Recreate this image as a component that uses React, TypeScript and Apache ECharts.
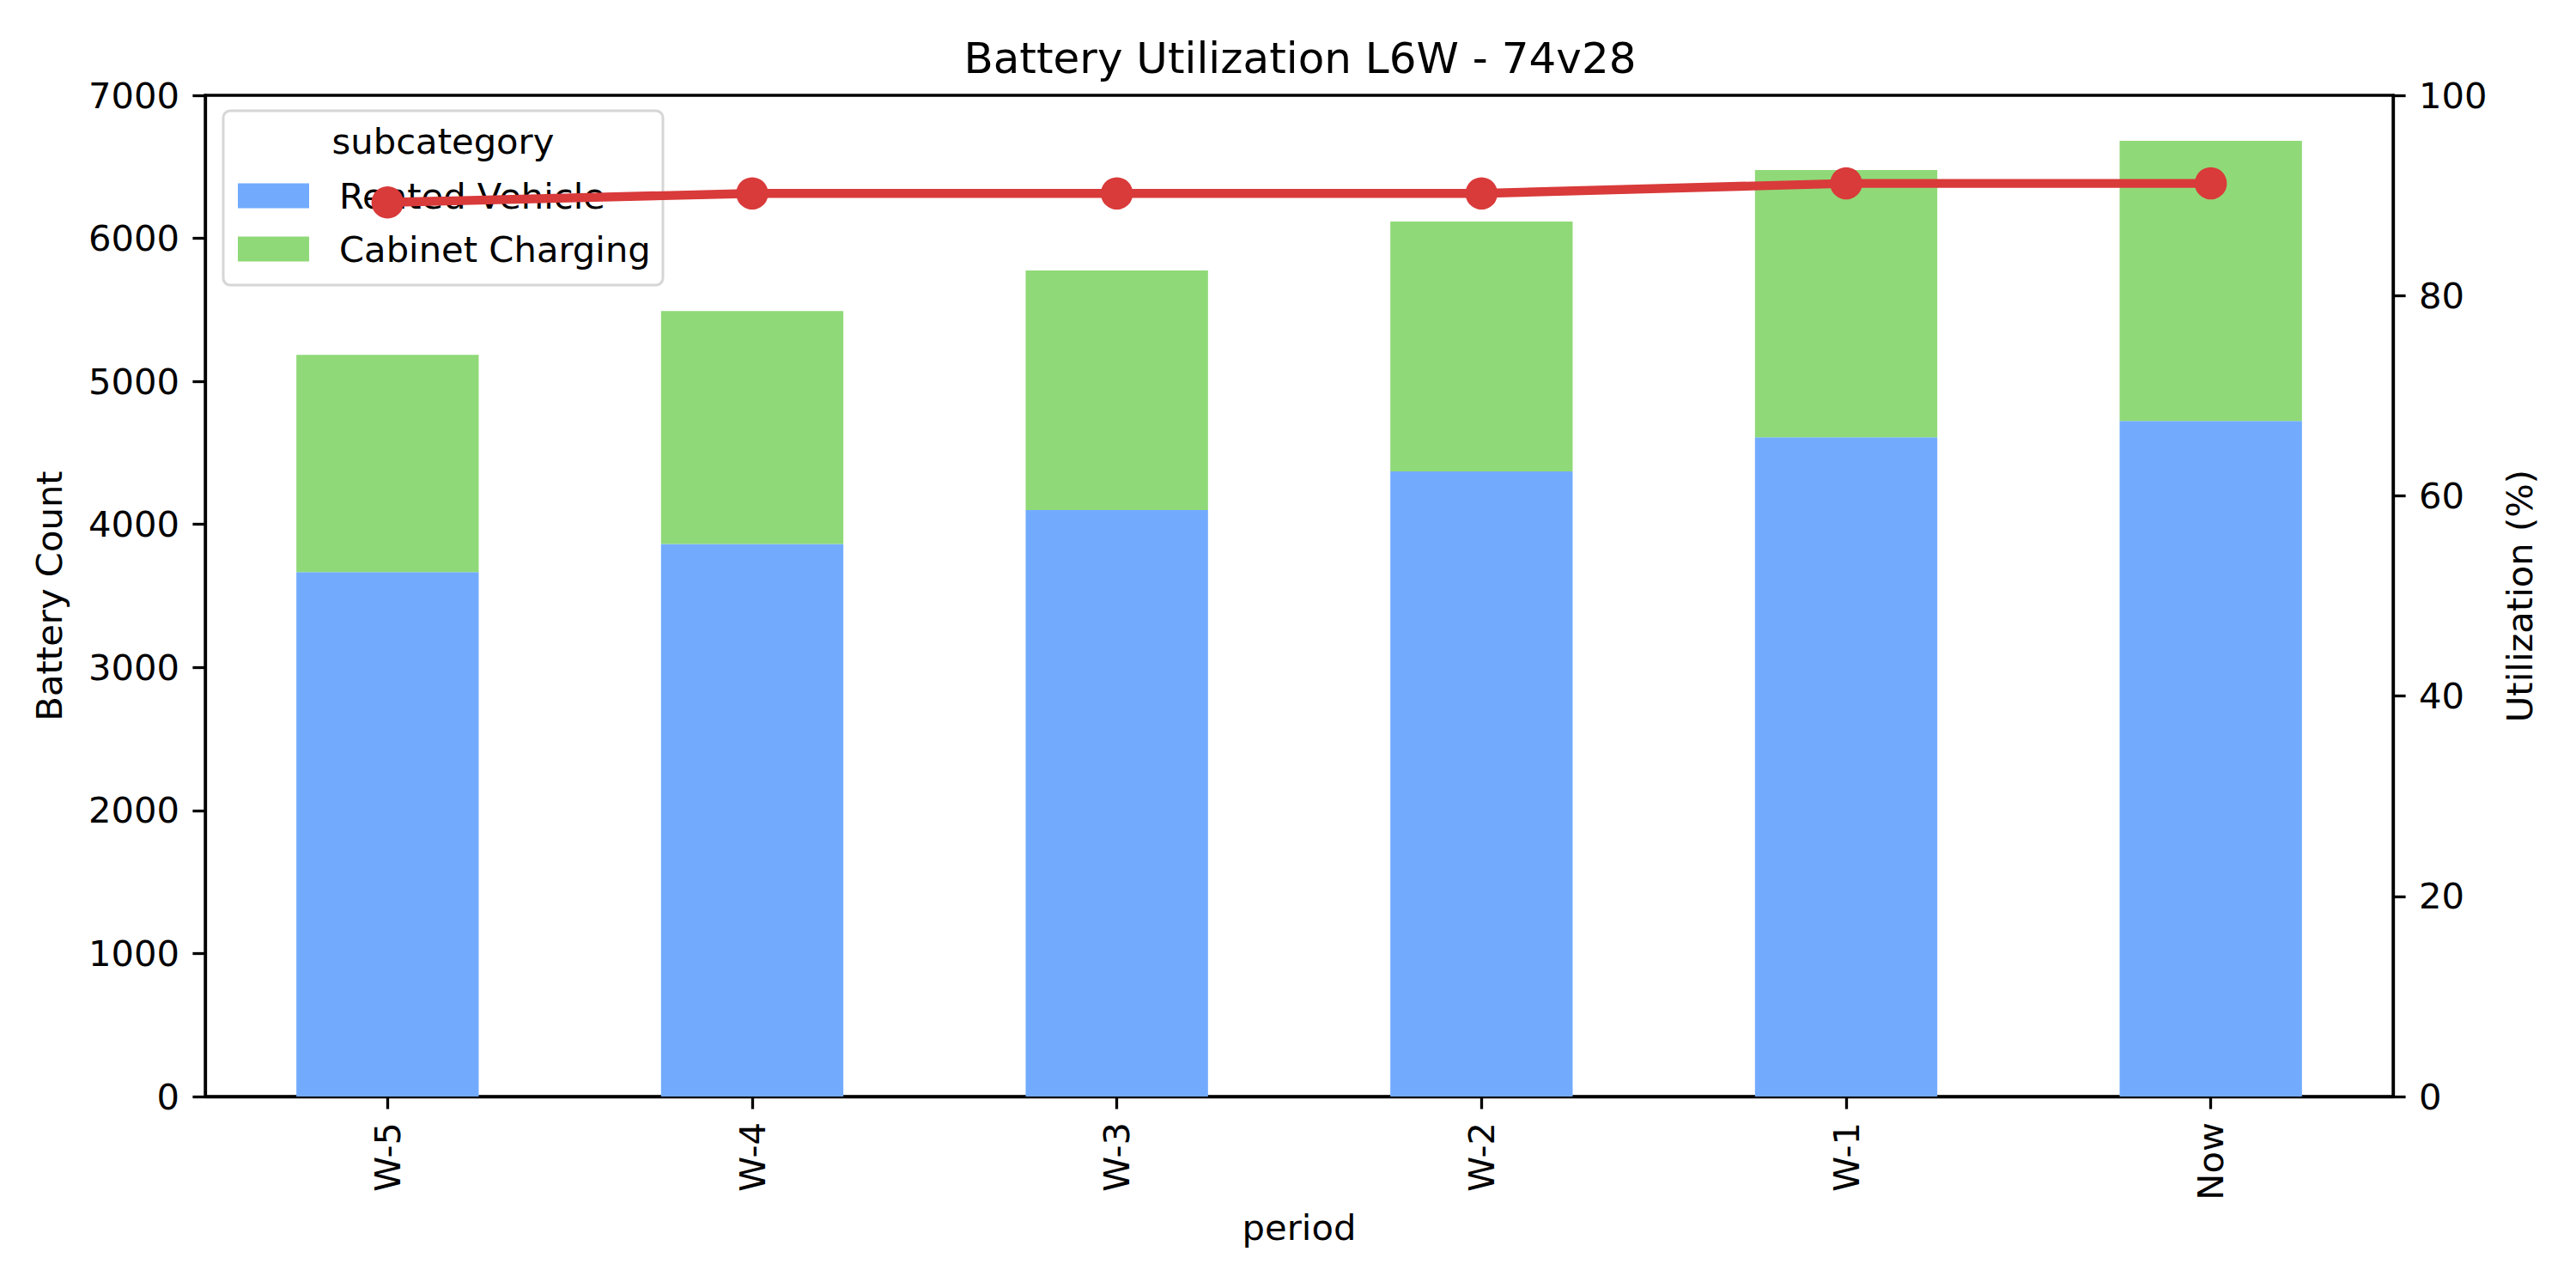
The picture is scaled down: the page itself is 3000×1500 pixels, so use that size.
import React, { useEffect, useRef } from "react";
import * as echarts from "echarts";

const periods = ["W-5", "W-4", "W-3", "W-2", "W-1", "Now"];
const rentedVehicle = [3666, 3863, 4100, 4370, 4609, 4723];
const cabinetCharging = [1519, 1629, 1676, 1747, 1868, 1959];
const utilization = [89.3, 90.2, 90.2, 90.2, 91.2, 91.2];
const seriesNames = ["Rented Vehicle", "Cabinet Charging"];
const chartTitle = "Battery Utilization L6W - 74v28";
const legendTitle = "subcategory";

const FONT = "DejaVu Sans";
const TICK_FS = 41.7;

export default function App() {
  const ref = useRef<HTMLDivElement>(null);
  useEffect(() => {
    if (!ref.current) return;
    const chart = echarts.init(ref.current, null, { renderer: "svg" });
    const axisCommon = {
      axisLine: { show: true, lineStyle: { color: "#000", width: 3.3 } },
      axisTick: { show: true, inside: false, length: 14.6, lineStyle: { color: "#000", width: 3.3 } },
      axisLabel: {
        color: "#000",
        fontSize: TICK_FS,
        fontFamily: FONT,
        margin: 30,
        formatter: (v: any) => String(v),
      },
      splitLine: { show: false },
      nameTextStyle: { color: "#000", fontSize: TICK_FS, fontFamily: FONT },
    };
    chart.setOption({
      animation: false,
      backgroundColor: "#fff",
      textStyle: { fontFamily: FONT },
      grid: {
        left: 239,
        right: 213,
        top: 111,
        bottom: 223,
        show: true,
        borderColor: "#000",
        borderWidth: 3.3,
        backgroundColor: "transparent",
        containLabel: false,
      },
      legend: {
        data: seriesNames,
        orient: "vertical",
        left: 277,
        top: 207,
        padding: 0,
        itemWidth: 83,
        itemHeight: 29,
        itemGap: 20,
        icon: "rect",
        z: 4,
        textStyle: {
          color: "#000",
          fontSize: TICK_FS,
          fontFamily: FONT,
          lineHeight: 42,
          padding: [0, 0, 0, 30],
        },
      },
      graphic: [
        {
          type: "rect",
          z: 3,
          shape: { x: 260, y: 129, width: 512, height: 203, r: 8 },
          style: { fill: "rgba(255,255,255,0.8)", stroke: "#d6d6d6", lineWidth: 3 },
        },
        {
          type: "text",
          z: 5,
          x: 516,
          y: 164,
          style: {
            text: legendTitle,
            fontSize: TICK_FS,
            fontFamily: FONT,
            fill: "#000",
            align: "center",
            verticalAlign: "middle",
            textAlign: "center",
            textVerticalAlign: "middle",
          },
        },
        {
          type: "text",
          z: 5,
          x: 1514,
          y: 68,
          style: {
            text: chartTitle,
            fontSize: 50,
            fontFamily: FONT,
            fill: "#000",
            align: "center",
            verticalAlign: "middle",
            textAlign: "center",
            textVerticalAlign: "middle",
          },
        },
      ],
      xAxis: {
        type: "category",
        data: periods,
        boundaryGap: true,
        name: "period",
        nameLocation: "middle",
        nameGap: 131,
        ...axisCommon,
        axisTick: { ...axisCommon.axisTick, alignWithLabel: true },
        axisLabel: { ...axisCommon.axisLabel, rotate: 90 },
      },
      yAxis: [
        {
          type: "value",
          min: 0,
          max: 7000,
          interval: 1000,
          name: "Battery Count",
          nameLocation: "middle",
          nameGap: 161,
          ...axisCommon,
        },
        {
          type: "value",
          min: 0,
          max: 100,
          interval: 20,
          position: "right",
          name: "Utilization (%)",
          nameLocation: "middle",
          nameGap: 126,
          ...axisCommon,
        },
      ],
      series: [
        {
          name: seriesNames[0],
          type: "bar",
          stack: "total",
          barWidth: "50%",
          itemStyle: { color: "#72abfe" },
          data: rentedVehicle,
          z: 2,
        },
        {
          name: seriesNames[1],
          type: "bar",
          stack: "total",
          barWidth: "50%",
          itemStyle: { color: "#90d978" },
          data: cabinetCharging,
          z: 2,
        },
        {
          name: "Utilization",
          type: "line",
          yAxisIndex: 1,
          data: utilization,
          symbol: "circle",
          symbolSize: 37.5,
          z: 10,
          lineStyle: { color: "#d93a3a", width: 10.4 },
          itemStyle: { color: "#d93a3a" },
        },
      ],
    });
    return () => chart.dispose();
  }, []);
  return (
    <div
      ref={ref}
      style={{ position: "fixed", left: 0, top: 0, width: 3000, height: 1500 }}
    />
  );
}
